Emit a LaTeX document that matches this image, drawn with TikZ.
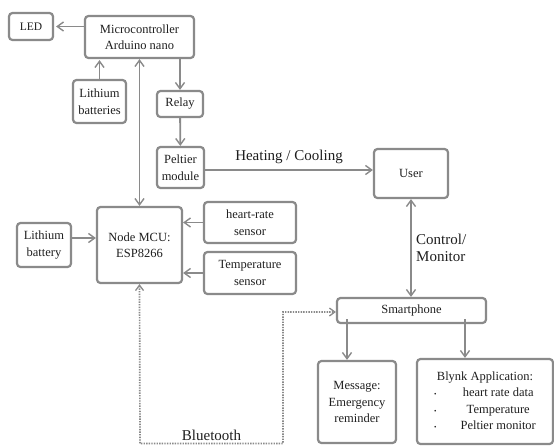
\documentclass[tikz,border=0pt]{standalone}
\usepackage{fontspec}
\setmainfont{Liberation Serif}
\usepackage{xcolor}
\usepackage{tikz}
\usetikzlibrary{arrows.meta, positioning}
\definecolor{edge}{RGB}{138,138,138}
\definecolor{ink}{RGB}{30,30,30}

\begin{document}
\begin{tikzpicture}[
  x=1pt, y=-1pt,
  font=\fontsize{12.5}{16.5}\selectfont, text=ink,
  blk/.style={rectangle, rounded corners=3.5pt, draw=edge, line width=2.2pt,
              inner sep=0pt, align=center},
  arr/.style={-{Straight Barb[length=2.2mm, width=3.2mm, line width=1.4pt]}, line width=1.8pt, edge},
  darr/.style={{Straight Barb[length=2.2mm, width=3.2mm, line width=1.4pt]}-{Straight Barb[length=2.2mm, width=3.2mm, line width=1.4pt]},
               line width=1.8pt, edge},
  bt/.style={{Straight Barb[length=1.9mm, width=2.8mm, line width=1.3pt]}-{Straight Barb[length=1.9mm, width=2.8mm, line width=1.3pt]},
             line width=1.7pt, edge, dash pattern=on 1.4pt off 1.2pt},
  lbl/.style={font=\fontsize{15}{17}\selectfont, text=ink}]

  \useasboundingbox (0,0) rectangle (554,445);

  % upper part: arduino side
  \node[blk, minimum width=44pt, minimum height=27pt]  (led)   at (31,26.5)  {\fontsize{11.5}{14}\selectfont LED};
  \node[blk, minimum width=109pt, minimum height=42pt] (micro) at (139.5,37) {Microcontroller\\Arduino nano};
  \node[blk, minimum width=53pt, minimum height=43pt]  (bats)  at (99.5,101.5) {Lithium\\batteries};
  \node[blk, minimum width=46pt, minimum height=26pt]  (relay) at (180,104) {Relay};
  \node[blk, minimum width=47pt, minimum height=41pt]  (pelt)  at (180.5,167.5) {Peltier\\module};
  \node[blk, minimum width=74pt, minimum height=49pt]  (user)  at (411,173.5) {User};

  \draw[arr] (micro.west |- led.east) -- ([xshift=2pt]led.east);
  \draw[arr] (bats.north) -- ([yshift=-1pt]bats.north |- micro.south);
  \draw[arr] (relay.north |- micro.south) -- (relay.north);
  \draw[arr] (relay) -- (pelt);
  \draw[arr] ([yshift=-2.5pt]pelt.east) -- node[lbl, above=2pt]{Heating / Cooling}
        ([yshift=-2.5pt]pelt.east -| user.west);

  % node mcu side
  \node[blk, minimum width=85pt, minimum height=76pt] (mcu)  at (139.5,245) {Node MCU:\\ESP8266};
  \node[blk, minimum width=54pt, minimum height=44pt] (bat)  at (44,245)    {Lithium\\battery};
  \node[blk, minimum width=92pt, minimum height=41pt] (hr)   at (250,222.5) {heart-rate\\sensor};
  \node[blk, minimum width=92pt, minimum height=42pt] (temp) at (250,273)   {Temperature\\sensor};

  \draw[darr] (micro.south) -- (mcu.north);
  \draw[arr] ([yshift=7pt]bat.east) -- ([yshift=7pt]bat.east -| mcu.west);
  \draw[arr] (hr.west) -- (hr.west -| mcu.east);
  \draw[arr] (temp.west) -- (temp.west -| mcu.east);

  % phone side
  \node[blk, minimum width=149pt, minimum height=25pt] (phone) at (411.5,310.5) {Smartphone};
  \node[blk, minimum width=78pt, minimum height=82pt]  (msg)   at (357,402) {Message:\\Emergency\\reminder};
  \node[blk, minimum width=136pt, minimum height=85pt] (blynk) at (485,401.5)
    {\begin{tabular}{@{}c@{\hspace{24pt}}c@{}}
       \multicolumn{2}{@{}c@{}}{Blynk Application:}\\
       {\scriptsize\textbullet} & heart rate data\\
       {\scriptsize\textbullet} & Temperature\\
       {\scriptsize\textbullet} & Peltier monitor
     \end{tabular}};

  \draw[darr] (user.south) -- node[lbl, right=1pt, align=left]{Control/\\Monitor} (user.south |- phone.north);
  \draw[arr] ([yshift=5pt]phone.south -| 347,0) -- (msg.north -| 347,0);
  \draw[arr] ([yshift=5pt]phone.south -| 465,0) -- (blynk.north -| 465,0);

  % bluetooth link
  \coordinate (b1) at (140,443.5);
  \coordinate (b2) at (283,443.5);
  \draw[bt] (mcu.south) -- (b1) -- node[lbl, above=-1pt]{Bluetooth} (b2)
        -- ([yshift=-1.5pt]b2 |- phone.west) -- ([yshift=-1.5pt]phone.west);
\end{tikzpicture}
\end{document}
